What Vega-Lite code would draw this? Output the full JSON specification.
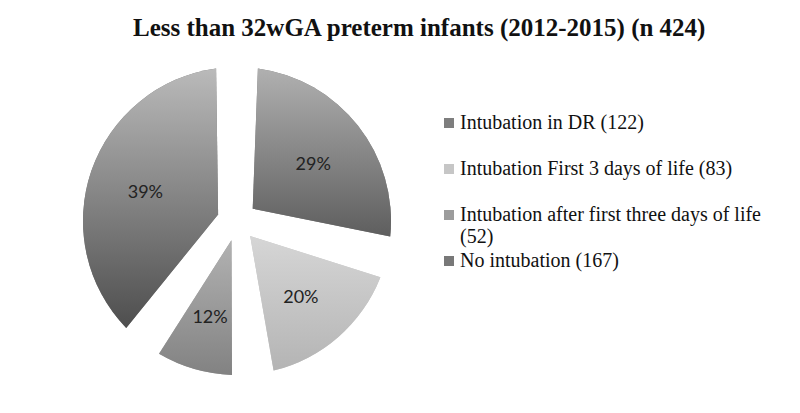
{
  "$schema": "https://vega.github.io/schema/vega-lite/v6.json",
  "width": 400,
  "height": 322,
  "autosize": "none",
  "padding": {"left": 37, "top": 60, "right": 363, "bottom": 31},
  "background": "white",
  "config": {"view": {"stroke": null}},
  "title": {
    "text": "Less than 32wGA preterm infants (2012-2015) (n 424)",
    "font": "Liberation Serif",
    "fontSize": 25,
    "fontWeight": "bold",
    "color": "#111111",
    "anchor": "start",
    "frame": "group",
    "dx": 96,
    "offset": 19
  },
  "data": {
    "values": [
      {"category": "Intubation in DR (122)", "count": 122, "share": 0.29, "idx": 1},
      {"category": "Intubation First 3 days of life (83)", "count": 83, "share": 0.20, "idx": 2},
      {"category": "Intubation  after first three days of life (52)", "count": 52, "share": 0.12, "idx": 3},
      {"category": "No intubation (167)", "count": 167, "share": 0.39, "idx": 4}
    ]
  },
  "encoding": {
    "theta": {"field": "count", "type": "quantitative", "stack": true},
    "order": {"field": "idx", "type": "quantitative"}
  },
  "layer": [
    {
      "mark": {"type": "arc", "outerRadius": 154, "innerRadius": 20, "padAngle": 0.27},
      "encoding": {
        "color": {
          "field": "category",
          "type": "nominal",
          "sort": ["Intubation in DR (122)", "Intubation First 3 days of life (83)", "Intubation  after first three days of life (52)", "No intubation (167)"],
          "scale": {
            "domain": ["Intubation in DR (122)", "Intubation First 3 days of life (83)", "Intubation  after first three days of life (52)", "No intubation (167)"],
            "range": ["#7e7e7e", "#c6c6c6", "#9c9c9c", "#787878"]
          },
          "legend": {
            "orient": "none",
            "legendX": 402,
            "legendY": 53,
            "title": null,
            "symbolType": "square",
            "symbolSize": 100,
            "symbolStrokeWidth": 0,
            "labelFont": "Liberation Serif",
            "labelFontSize": 20,
            "labelColor": "#111111",
            "labelOffset": 1,
            "labelLimit": 400,
            "gridAlign": "all",
            "rowPadding": 4,
            "labelExpr": "datum.label == 'Intubation  after first three days of life (52)' ? ['Intubation  after first three days of life', '(52)'] : datum.label"
          }
        }
      }
    },
    {
      "mark": {"type": "arc", "outerRadius": 154, "innerRadius": 20, "padAngle": 0.27},
      "encoding": {
        "color": {
          "condition": [
            {"test": "datum.idx == 1", "value": {"gradient": "linear", "x1": 0, "y1": 0, "x2": 0, "y2": 1, "stops": [{"offset": 0, "color": "#b0b0b0"}, {"offset": 1, "color": "#5e5e5e"}]}},
            {"test": "datum.idx == 2", "value": {"gradient": "linear", "x1": 0, "y1": 0, "x2": 0, "y2": 1, "stops": [{"offset": 0, "color": "#d6d6d6"}, {"offset": 1, "color": "#b4b4b4"}]}},
            {"test": "datum.idx == 3", "value": {"gradient": "linear", "x1": 0, "y1": 0, "x2": 0, "y2": 1, "stops": [{"offset": 0, "color": "#b2b2b2"}, {"offset": 1, "color": "#828282"}]}}
          ],
          "value": {"gradient": "linear", "x1": 0, "y1": 0, "x2": 0, "y2": 1, "stops": [{"offset": 0, "color": "#bababa"}, {"offset": 1, "color": "#4e4e4e"}]}
        }
      }
    },
    {
      "mark": {"type": "text", "radius": 97, "dy": 4, "font": "Lato", "fontSize": 18, "color": "#222222"},
      "encoding": {
        "text": {"field": "share", "type": "quantitative", "format": ".0%"}
      }
    }
  ]
}
